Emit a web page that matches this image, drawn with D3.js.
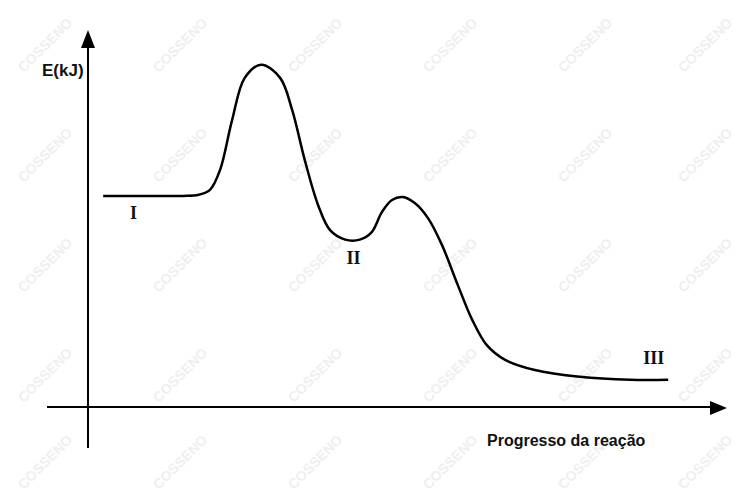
<!DOCTYPE html>
<html><head><meta charset="utf-8">
<script src="https://cdn.jsdelivr.net/npm/d3@7"></script>
<style>html,body{margin:0;padding:0;background:#fff;}svg{display:block;}</style>
</head><body>
<script>
// Reaction progress (0-100) and energy (arbitrary 0-100)
const progress = [2.4,9.0,15.0,17.5,19.3,20.9,22.8,24.8,27.4,30.4,32.3,34.3,36.4,38.3,40.7,43.0,44.9,46.5,48.1,49.8,51.7,53.8,56.0,58.5,60.8,63.1,66.0,70.7,77.8,85.8,91.8];
const energy   = [56.0,56.0,56.0,56.3,57.6,62.9,76.1,87.3,90.8,87.3,78.8,65.5,53.6,46.9,44.4,44.4,46.4,51.7,54.9,55.7,54.1,50.1,43.0,32.4,23.1,16.4,12.5,9.8,8.0,7.2,7.2];
const stageLabels = ["I","II","III"];
const stageProgress = [7.2,42.0,89.5];
const stageEnergy = [50.0,38.0,11.5];
const axisLabels = {y:"E(kJ)", x:"Progresso da reação"};

const W=745,H=495;
const svg=d3.select("body").append("svg").attr("width",W).attr("height",H);
const x=d3.scaleLinear().domain([0,100]).range([88,720]);
const y=d3.scaleLinear().domain([0,100]).range([407,30]);

// faint watermark
const wm=svg.append("g").attr("fill","#efefef").attr("font-family","Arial, Liberation Sans, sans-serif").attr("font-weight","bold").attr("font-size",14);
const wmX=[45,180,315,450,585,705], wmY=[45,155,265,375,462];
wmY.forEach(cy=>wmX.forEach(cx=>{
  wm.append("text").attr("transform",`translate(${cx},${cy}) rotate(-45)`).attr("text-anchor","middle").attr("dy","0.35em").text("COSSENO");
}));

// axes
svg.append("line").attr("x1",x(0)).attr("x2",x(0)).attr("y1",448).attr("y2",y(100)+10).attr("stroke","#000").attr("stroke-width",2);
svg.append("line").attr("x1",47).attr("x2",715).attr("y1",y(0)).attr("y2",y(0)).attr("stroke","#000").attr("stroke-width",2);
svg.append("path").attr("d",`M${x(0)},${y(100)} L${x(0)-7},${y(100)+18} L${x(0)+7},${y(100)+18}Z`).attr("fill","#000");
svg.append("path").attr("d",`M727,${y(0)+1} L710,${y(0)-6} L710,${y(0)+8}Z`).attr("fill","#000");

// curve
const line=d3.line().x((d,i)=>x(progress[i])).y((d,i)=>y(energy[i])).curve(d3.curveCatmullRom.alpha(0.5));
svg.append("path").datum(progress).attr("d",line).attr("fill","none").attr("stroke","#000").attr("stroke-width",2.5);

// stage labels
svg.selectAll("text.stage").data(stageLabels).join("text").attr("class","stage")
  .attr("x",(d,i)=>x(stageProgress[i])).attr("y",(d,i)=>y(stageEnergy[i]))
  .attr("text-anchor","middle").attr("font-family","Liberation Serif, DejaVu Serif, serif").attr("font-weight","bold").attr("font-size",18)
  .attr("fill","#111").text(d=>d);

svg.append("text").attr("x",42).attr("y",76).attr("font-family","Liberation Sans, Arial, sans-serif").attr("font-weight","bold").attr("font-size",17).attr("fill","#111").text(axisLabels.y);
svg.append("text").attr("x",487).attr("y",446).attr("font-family","Liberation Sans, Arial, sans-serif").attr("font-weight","bold").attr("font-size",16).attr("fill","#111").text(axisLabels.x);
</script>
</body></html>
